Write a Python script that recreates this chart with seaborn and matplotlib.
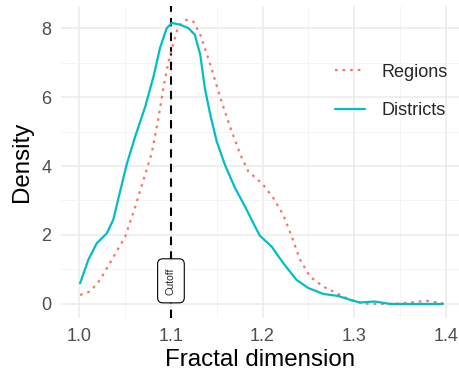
import numpy as np
import pandas as pd
import matplotlib
matplotlib.use("Agg")
import matplotlib.pyplot as plt
import seaborn as sns

# density curves
districts_x = [1.0008, 1.0098, 1.019, 1.030, 1.037, 1.044, 1.052, 1.061, 1.072, 1.081,
               1.088, 1.0954, 1.101, 1.110, 1.119, 1.126, 1.132, 1.137, 1.143, 1.150,
               1.159, 1.170, 1.181, 1.190, 1.197, 1.210, 1.2227, 1.237, 1.250, 1.2664,
               1.2827, 1.2955, 1.3064, 1.3228, 1.339, 1.397]
districts_y = [0.60, 1.28, 1.76, 2.05, 2.44, 3.21, 4.08, 4.86, 5.73, 6.6,
               7.42, 8.0, 8.15, 8.10, 8.0, 7.81, 7.23, 6.26, 5.48, 4.71,
               4.03, 3.36, 2.82, 2.34, 1.98, 1.66, 1.18, 0.70, 0.46, 0.29,
               0.23, 0.12, 0.04, 0.07, 0.0, 0.0]

regions_x = [1.0008, 1.0117, 1.0226, 1.0354, 1.050, 1.061, 1.070, 1.079, 1.086, 1.0925,
             1.098, 1.102, 1.108, 1.117, 1.1245, 1.132, 1.143, 1.154, 1.165, 1.176,
             1.1845, 1.195, 1.2009, 1.2118, 1.2227, 1.2319, 1.241, 1.2519, 1.2664, 1.281,
             1.2955, 1.310, 1.332, 1.350, 1.3646, 1.379, 1.397]
regions_y = [0.26, 0.36, 0.70, 1.28, 1.95, 2.82, 3.6, 4.37, 5.34, 6.38,
             7.1, 7.5, 8.05, 8.24, 8.19, 7.81, 6.94, 5.97, 5.1, 4.32,
             3.84, 3.6, 3.45, 3.07, 2.58, 1.95, 1.28, 0.79, 0.50, 0.31,
             0.12, 0.01, 0.0, 0.01, 0.05, 0.09, 0.02]

cutoff = 1.1
x_ticks = [1.0, 1.1, 1.2, 1.3, 1.4]
y_ticks = [0, 2, 4, 6, 8]

sns.set_theme(style="whitegrid")
plt.rcParams['font.family'] = ['Liberation Sans', 'DejaVu Sans']

fig = plt.figure(figsize=(4.59, 3.8), dpi=100)
ax = fig.add_axes([0.133, 0.163, 0.867, 0.822])

df_reg = pd.DataFrame({"x": regions_x, "y": regions_y})
df_dis = pd.DataFrame({"x": districts_x, "y": districts_y})

sns.lineplot(data=df_reg, x="x", y="y", ax=ax, color="#F8766D", lw=1.6,
             linestyle=(0, (1.2, 2.2)), label="Regions")
sns.lineplot(data=df_dis, x="x", y="y", ax=ax, color="#00BFC4", lw=1.6,
             label="Districts")

ax.axvline(cutoff, color="black", lw=1.5, linestyle=(0, (4, 3)), zorder=1)
ax.text(cutoff, 0.67, "Cutoff", rotation=90, ha="center", va="center", fontsize=7.5,
        bbox=dict(boxstyle="round,pad=0.8,rounding_size=0.5", fc="white", ec="black", lw=0.8))

ax.set_xlim(0.98, 1.4145)
ax.set_ylim(-0.41, 8.65)
ax.set_xticks(x_ticks)
ax.set_yticks(y_ticks)
ax.set_xticks([1.05, 1.15, 1.25, 1.35], minor=True)
ax.set_yticks([1, 3, 5, 7], minor=True)
ax.grid(True, which="major", color="#EBEBEB", lw=1.1)
ax.grid(True, which="minor", color="#F2F2F2", lw=0.6)
ax.tick_params(axis="both", which="both", length=0, labelsize=13, labelcolor="#4D4D4D")
ax.tick_params(axis="x", pad=7)
ax.tick_params(axis="y", pad=7)
for s in ax.spines.values():
    s.set_visible(False)
ax.set_facecolor("white")

ax.set_xlabel("Fractal dimension", fontsize=17.4, color="black", labelpad=3)
ax.set_ylabel("Density", fontsize=17.4, color="black", labelpad=6)

leg = ax.legend(loc="upper left", bbox_to_anchor=(0.688, 0.814), frameon=False,
                fontsize=13, handlelength=1.66, labelspacing=1.2, handletextpad=0.92,
                borderpad=0, borderaxespad=0)

fig.savefig("out.png", dpi=100)
